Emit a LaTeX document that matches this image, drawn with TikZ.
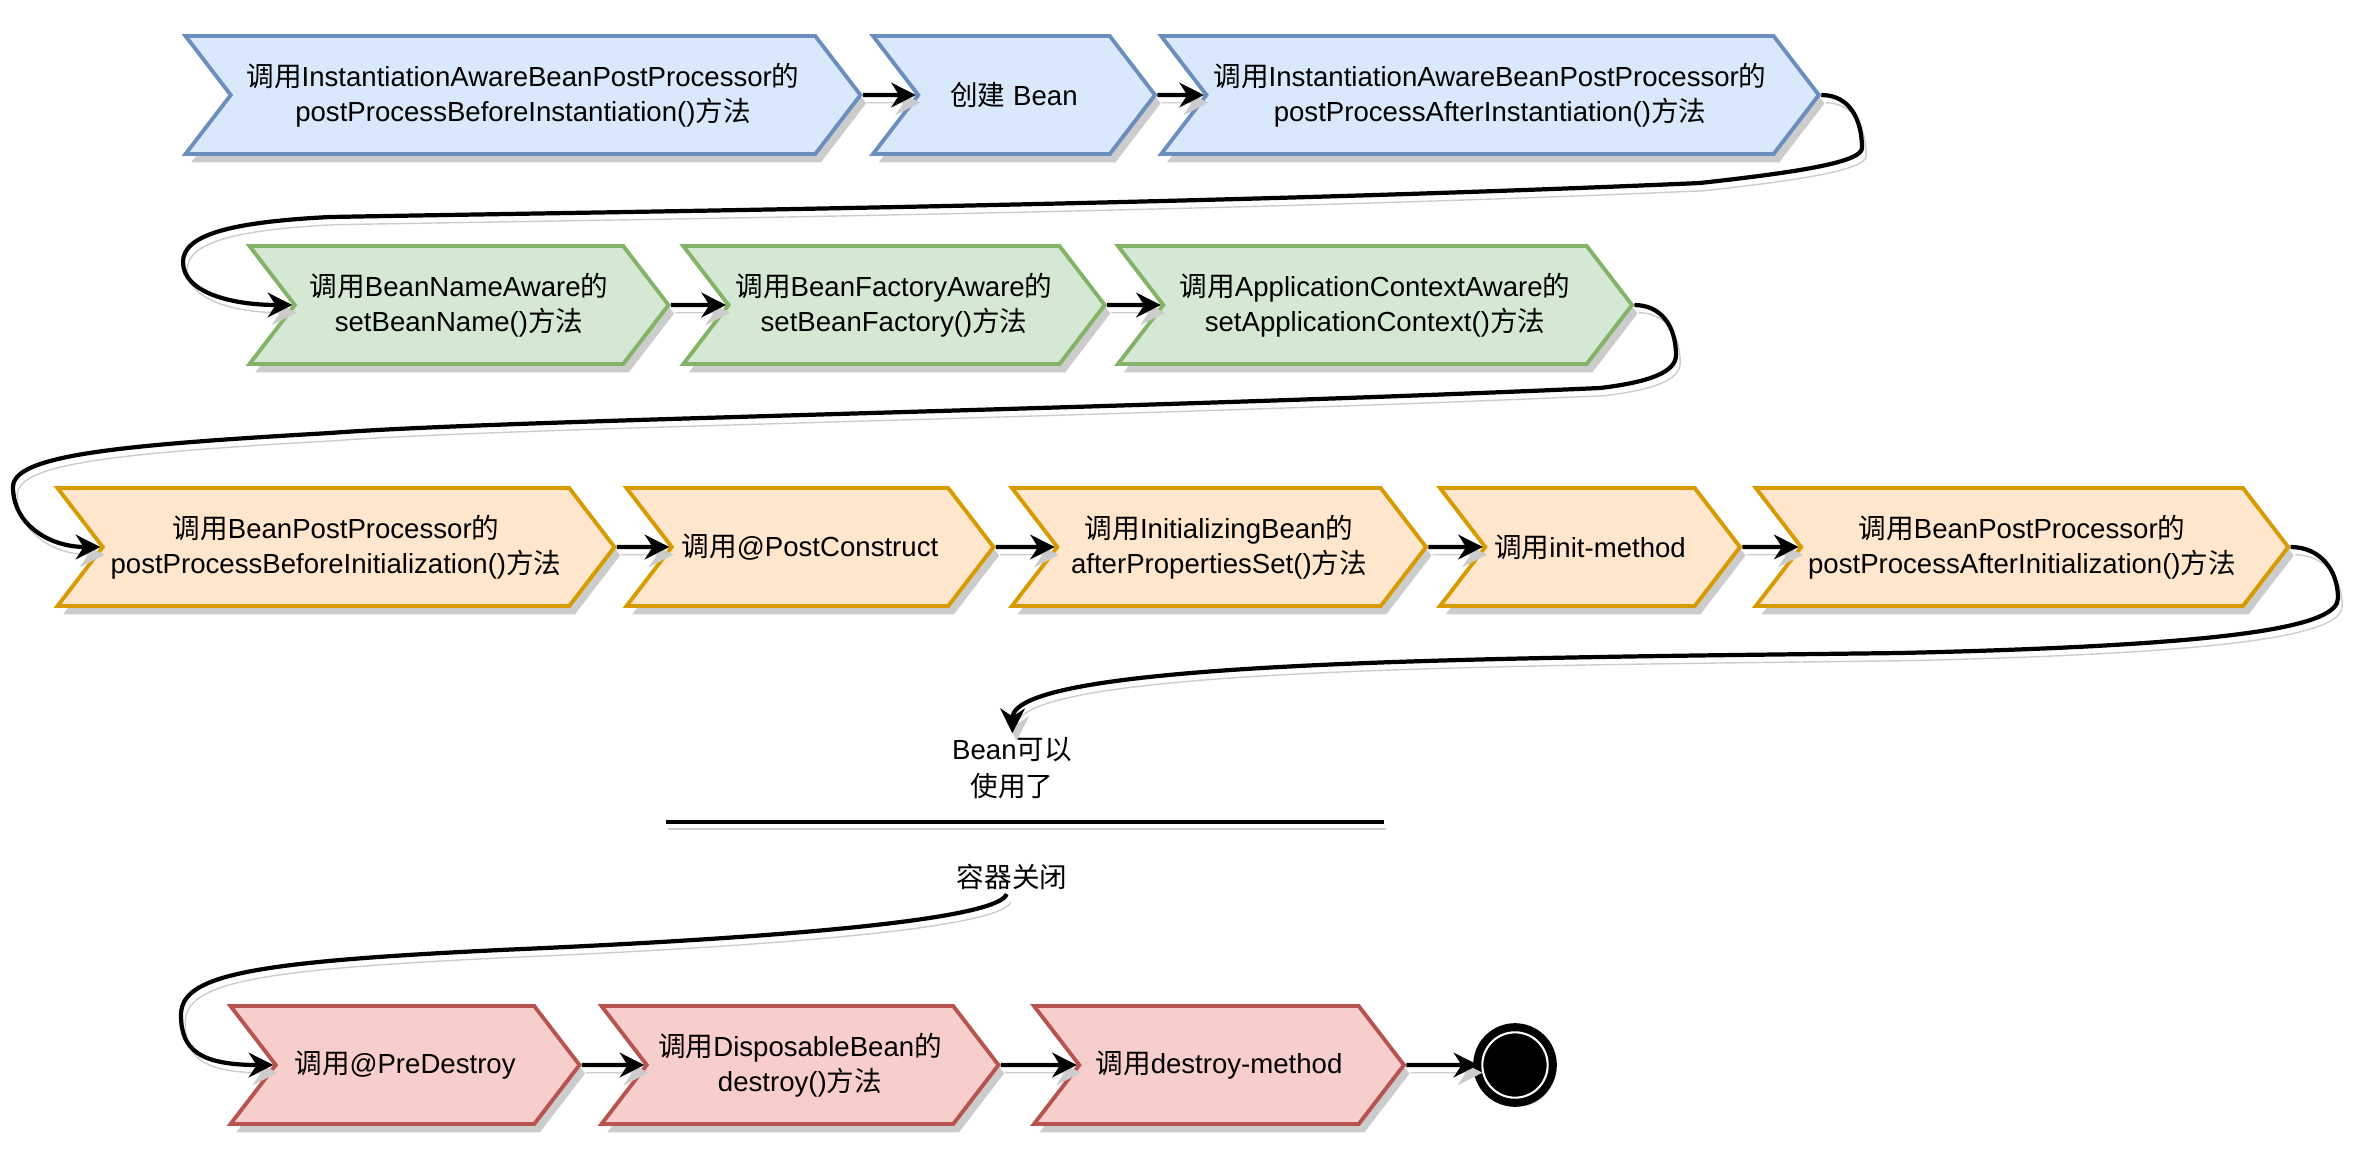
\documentclass[tikz,border=0pt]{standalone}
\usepackage{fontspec}
\setmainfont{Liberation Sans}
\newfontfamily\zhfont{Noto Sans CJK SC}
\newcommand{\zhtxt}[1]{{\zhfont #1}}
\usepackage{tikz}
\usetikzlibrary{positioning, arrows.meta, shapes.symbols, shadows}

\definecolor{instFill}{HTML}{DAE8FC}
\definecolor{instLine}{HTML}{6C8EBF}
\definecolor{awareFill}{HTML}{D5E8D4}
\definecolor{awareLine}{HTML}{82B366}
\definecolor{initFill}{HTML}{FFE6CC}
\definecolor{initLine}{HTML}{D79B00}
\definecolor{killFill}{HTML}{F8CECC}
\definecolor{killLine}{HTML}{B85450}

\begin{document}
\begin{tikzpicture}[
    >={Stealth[length=7pt, width=7pt]},
    flow/.style={->, line width=1.2pt,
        preaction={draw=black!20, transform canvas={shift={(1.2pt,-2.2pt)}}}},
    chev/.style={signal, signal from=west, signal to=east, signal pointer angle=105,
        minimum height=1.18cm, line width=1.1pt, align=center, inner sep=2pt,
        font=\fontsize{7.85pt}{9.8pt}\selectfont,
        drop shadow={shadow xshift=1.6pt, shadow yshift=-2.4pt, fill=black!20, opacity=1}},
    inst/.style={chev, fill=instFill, draw=instLine},
    aware/.style={chev, fill=awareFill, draw=awareLine},
    init/.style={chev, fill=initFill, draw=initLine},
    kill/.style={chev, fill=killFill, draw=killLine},
    note/.style={align=center, inner sep=1pt, font=\fontsize{7.85pt}{10.5pt}\selectfont}
]
\useasboundingbox (0,0) rectangle (23.6,-11.6);

% Instantiation
\node[inst, minimum width=6.75cm] (b1) at (5.23,-0.95)
    {\zhtxt{调用}InstantiationAwareBeanPostProcessor\zhtxt{的}\\postProcessBeforeInstantiation()\zhtxt{方法}};
\node[inst, minimum width=2.82cm] (b2) at (10.14,-0.95) {\zhtxt{创建} Bean};
\node[inst, minimum width=6.49cm] (b3) at (14.90,-0.95)
    {\zhtxt{调用}InstantiationAwareBeanPostProcessor\zhtxt{的}\\postProcessAfterInstantiation()\zhtxt{方法}};

% Aware interfaces
\node[aware, minimum width=4.19cm] (b4) at (4.59,-3.05)
    {\zhtxt{调用}BeanNameAware\zhtxt{的}\\setBeanName()\zhtxt{方法}};
\node[aware, minimum width=4.18cm] (b5) at (8.94,-3.05)
    {\zhtxt{调用}BeanFactoryAware\zhtxt{的}\\setBeanFactory()\zhtxt{方法}};
\node[aware, minimum width=5.14cm] (b6) at (13.75,-3.05)
    {\zhtxt{调用}ApplicationContextAware\zhtxt{的}\\setApplicationContext()\zhtxt{方法}};

% Initialization
\node[init, minimum width=5.57cm] (b7) at (3.36,-5.47)
    {\zhtxt{调用}BeanPostProcessor\zhtxt{的}\\postProcessBeforeInitialization()\zhtxt{方法}};
\node[init, minimum width=3.67cm] (b8) at (8.10,-5.47) {\zhtxt{调用}@PostConstruct};
\node[init, minimum width=4.14cm] (b9) at (12.19,-5.47)
    {\zhtxt{调用}InitializingBean\zhtxt{的}\\afterPropertiesSet()\zhtxt{方法}};
\node[init, minimum width=3.00cm] (b10) at (15.90,-5.47) {\zhtxt{调用}init-method};
\node[init, minimum width=5.30cm] (b11) at (20.22,-5.47)
    {\zhtxt{调用}BeanPostProcessor\zhtxt{的}\\postProcessAfterInitialization()\zhtxt{方法}};

% Ready / shutdown
\node[note] (ready) at (10.12,-7.68) {Bean\zhtxt{可以}\\\zhtxt{使用了}};
\coordinate (sepL) at (6.66,-8.22);
\coordinate (sepR) at (13.84,-8.22);
\draw[line width=1.2pt, preaction={draw=black!20, transform canvas={shift={(0.6pt,-2pt)}}}] (sepL) -- (sepR);
\node[note] (closed) at (10.12,-8.77) {\zhtxt{容器关闭}};

% Destruction
\node[kill, minimum width=3.49cm] (b12) at (4.05,-10.65) {\zhtxt{调用}@PreDestroy};
\node[kill, minimum width=3.97cm] (b13) at (8.00,-10.65)
    {\zhtxt{调用}DisposableBean\zhtxt{的}\\destroy()\zhtxt{方法}};
\node[kill, minimum width=3.70cm] (b14) at (12.19,-10.65) {\zhtxt{调用}destroy-method};
\node[circle, fill=black, draw=black, double=white, double distance=0.6pt, line width=2.3pt,
    minimum size=18.6pt, inner sep=0pt,
    drop shadow={shadow xshift=1.6pt, shadow yshift=-2.4pt, fill=black!20, opacity=1}] (stop) at (15.15,-10.65) {};

% Straight steps
\draw[flow] (b1) -- (b2);
\draw[flow] (b2) -- (b3);
\draw[flow] (b4) -- (b5);
\draw[flow] (b5) -- (b6);
\draw[flow] (b7) -- (b8);
\draw[flow] (b8) -- (b9);
\draw[flow] (b9) -- (b10);
\draw[flow] (b10) -- (b11);
\draw[flow] (b12) -- (b13);
\draw[flow] (b13) -- (b14);
\draw[flow] (b14) -- (stop);

% Row changes
\draw[flow] (b3.east) .. controls (18.50,-0.95) and (18.62,-1.20) .. (18.62,-1.48)
    .. controls (18.62,-1.62) and (18.00,-1.72) .. (17.00,-1.83)
    .. controls (12.00,-2.05) and (6.00,-2.12) .. (3.30,-2.17)
    .. controls (2.30,-2.22) and (1.83,-2.35) .. (1.83,-2.62)
    .. controls (1.83,-2.92) and (2.30,-3.05) .. (b4);
\draw[flow] (b6.east) .. controls (16.60,-3.05) and (16.76,-3.25) .. (16.76,-3.55)
    .. controls (16.76,-3.72) and (16.50,-3.82) .. (16.00,-3.88)
    .. controls (11.00,-4.10) and (5.00,-4.20) .. (3.30,-4.33)
    .. controls (1.20,-4.45) and (0.13,-4.55) .. (0.13,-4.87)
    .. controls (0.13,-5.25) and (0.50,-5.47) .. (b7);
\draw[flow] (b11.east) .. controls (23.20,-5.47) and (23.38,-5.70) .. (23.38,-5.98)
    .. controls (23.38,-6.25) and (22.50,-6.45) .. (19.00,-6.53)
    .. controls (15.00,-6.58) and (10.13,-6.60) .. (ready);
\draw[flow] (closed) .. controls (10.00,-9.15) and (8.50,-9.35) .. (5.00,-9.50)
    .. controls (2.50,-9.62) and (1.81,-9.75) .. (1.81,-10.15)
    .. controls (1.81,-10.50) and (2.00,-10.65) .. (b12);

\end{tikzpicture}
\end{document}
